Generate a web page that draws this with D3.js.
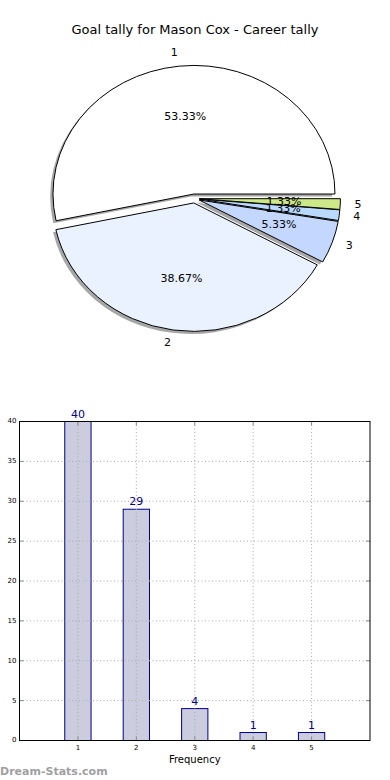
<!DOCTYPE html>
<html><head><meta charset="utf-8">
<script src="https://cdn.jsdelivr.net/npm/d3@7/dist/d3.min.js"></script>
<style>body{margin:0;background:#fff}svg{display:block;font-family:"DejaVu Sans",sans-serif}</style>
</head><body><svg id="c" width="390" height="780"></svg>
<script>
const title = "Goal tally for Mason Cox - Career tally";
const categories = ["1","2","3","4","5"];
const counts = [40, 29, 4, 1, 1];
const sliceColors = ["#ffffff","#ebf2ff","#c4d8ff","#b9d9ff","#cce888"];
const yTicks = [0,5,10,15,20,25,30,35,40];
const xLabel = "Frequency";
const watermark = "Dream-Stats.com";

const svg = d3.select("#c");

svg.append("text").attr("x",195).attr("y",30).attr("text-anchor","middle")
  .attr("dominant-baseline","middle").attr("font-size",13).text(title);

// ---- Pie ----
const cx = 194.5, cy = 198.5, rx = 141, ry = 128.5, explode = 0.035;
const total = d3.sum(counts);
const pie = d3.pie().sort(null).startAngle(Math.PI/2).endAngle(Math.PI/2 - 2*Math.PI);
const arcs = pie(counts);
const arcGen = d3.arc().innerRadius(0).outerRadius(1);
const pieG = svg.append("g");
function geo(a){
  const mid = (a.startAngle + a.endAngle)/2;
  const ux = Math.sin(mid), uy = -Math.cos(mid);
  return {ux, uy, tx: cx + explode*rx*ux, ty: cy + explode*ry*uy};
}
arcs.forEach((a,i)=>{
  const g = geo(a);
  pieG.append("path").attr("d", arcGen(a))
    .attr("transform",`translate(${g.tx-0.02*rx},${g.ty+0.02*ry}) scale(${rx},${ry})`)
    .attr("fill","rgb(77,77,77)").attr("fill-opacity",0.5).attr("stroke","none");
});
arcs.forEach((a,i)=>{
  const g = geo(a);
  pieG.append("path").attr("d", arcGen(a))
    .attr("transform",`translate(${g.tx},${g.ty}) scale(${rx},${ry})`)
    .attr("fill",sliceColors[i]).attr("stroke","#000").attr("stroke-width",1)
    .attr("vector-effect","non-scaling-stroke").attr("stroke-linejoin","round");
});
arcs.forEach((a,i)=>{
  const g = geo(a);
  const lx = g.tx + 1.1*rx*g.ux, ly = g.ty + 1.1*ry*g.uy;
  pieG.append("text").attr("x",lx).attr("y",ly)
    .attr("text-anchor", g.ux < 0 ? "end" : "start")
    .attr("dominant-baseline","middle").attr("font-size",11).text(categories[i]);
  const px = g.tx + 0.6*rx*g.ux, py = g.ty + 0.6*ry*g.uy;
  pieG.append("text").attr("x",px).attr("y",py).attr("text-anchor","middle")
    .attr("dominant-baseline","middle").attr("font-size",11)
    .text((counts[i]/total*100).toFixed(2)+"%");
});

// ---- Bars ----
const L = 19.5, R = 370, T = 421.5, B = 740.5;
const x = d3.scaleLinear().domain([0,6]).range([L,R]);
const y = d3.scaleLinear().domain([0,40]).range([B,T]);
const bg = svg.append("g");
const bw = x(0.45)-x(0);
bg.selectAll("rect.bar").data(counts).join("rect").attr("class","bar")
  .attr("x",(d,i)=>x(i+1)-bw/2).attr("width",bw)
  .attr("y",d=>y(d)).attr("height",d=>y(0)-y(d))
  .attr("fill","#ccccdf").attr("stroke","#000080").attr("stroke-width",1);
const xt = categories.map(Number);
bg.selectAll("line.gx").data(xt).join("line").attr("x1",d=>x(d)).attr("x2",d=>x(d))
  .attr("y1",T).attr("y2",B).attr("stroke","#aaa").attr("stroke-dasharray","1,2.5");
bg.selectAll("line.gy").data(yTicks).join("line").attr("y1",d=>y(d)).attr("y2",d=>y(d))
  .attr("x1",L).attr("x2",R).attr("stroke","#aaa").attr("stroke-dasharray","1,2.5");
bg.selectAll("line.ty").data(yTicks).join("line").attr("y1",d=>y(d)).attr("y2",d=>y(d))
  .attr("x1",L).attr("x2",L+4).attr("stroke","#888");
bg.selectAll("line.ty2").data(yTicks).join("line").attr("y1",d=>y(d)).attr("y2",d=>y(d))
  .attr("x1",R-4).attr("x2",R).attr("stroke","#888");
bg.selectAll("line.tx").data(xt).join("line").attr("x1",d=>x(d)).attr("x2",d=>x(d))
  .attr("y1",B-4).attr("y2",B).attr("stroke","#888");
bg.selectAll("line.tx2").data(xt).join("line").attr("x1",d=>x(d)).attr("x2",d=>x(d))
  .attr("y1",T).attr("y2",T+4).attr("stroke","#888");
bg.append("rect").attr("x",L).attr("y",T).attr("width",R-L).attr("height",B-T)
  .attr("fill","none").attr("stroke","#000").attr("stroke-width",1);
bg.selectAll("text.yl").data(yTicks).join("text").attr("x",L-3).attr("y",d=>y(d))
  .attr("text-anchor","end").attr("dominant-baseline","middle").attr("font-size",7).text(d=>d);
bg.selectAll("text.xl").data(xt).join("text").attr("x",d=>x(d)).attr("y",B+8)
  .attr("text-anchor","middle").attr("dominant-baseline","middle").attr("font-size",7).text(d=>d);
bg.append("text").attr("x",(L+R)/2).attr("y",760).attr("text-anchor","middle")
  .attr("dominant-baseline","middle").attr("font-size",10).text(xLabel);
bg.selectAll("text.vl").data(counts).join("text").attr("x",(d,i)=>x(i+1)).attr("y",d=>y(d)-4)
  .attr("text-anchor","middle").attr("font-size",11).attr("fill","#000080").text(d=>d);
svg.append("text").attr("x",0).attr("y",775).attr("font-size",11).attr("font-weight","bold")
  .attr("fill","#a0a0a0").text(watermark);
</script></body></html>
